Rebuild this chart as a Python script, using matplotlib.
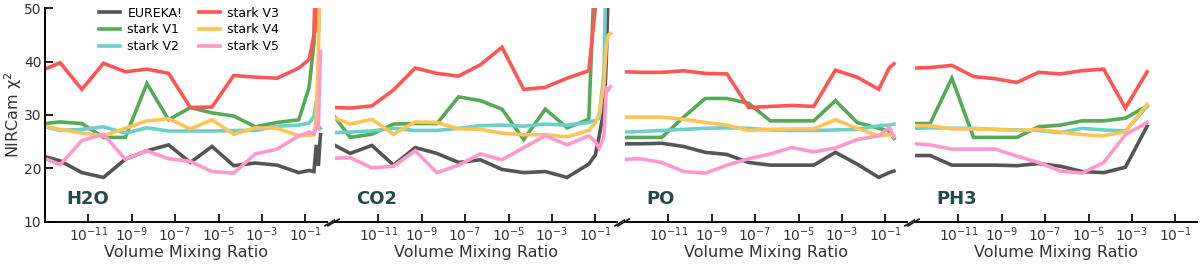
#!/usr/bin/env python3
"""
NIRCam chi^2 versus volume mixing ratio for four molecules, drawn on a broken x axis.
"""

import matplotlib as mpl

mpl.use("Agg")

import matplotlib.pyplot as plt
import matplotlib.ticker

IMAGE_DPI = 100.0

# common grid: 1e-13 then 5e-13 ... 5e-2
BASE_X = [1e-13, 5e-13, 5e-12, 5e-11, 5e-10, 5e-9, 5e-8, 5e-7, 5e-6, 5e-5, 5e-4, 5e-3, 5e-2]

SERIES = ["EUREKA!", "stark V1", "stark V2", "stark V3", "stark V4", "stark V5"]
COLORS = ["#555555", "#55aa55", "#6dcfc9", "#ff5555", "#ffc457", "#ff99cc"]

# H2O
h2o_x = BASE_X + [0.15, 0.25, 0.32, 0.4, 0.5]
h2o_eureka = [22.2, 21.4, 19.2, 18.3, 21.7, 23.3, 24.4, 21.1, 24.1, 20.5, 21.0, 20.6, 19.2, 19.6, 19.4, 24.4, 20.5, 26.3]
h2o_v1 = [28.4, 28.7, 28.4, 25.8, 25.8, 35.9, 29.1, 31.4, 30.4, 29.8, 27.8, 28.6, 29.1, 35.2, 43.4, 60.0, 60.0, 60.0]
h2o_v2 = [27.8, 27.1, 27.3, 27.8, 26.6, 27.6, 27.0, 27.0, 27.0, 27.1, 27.1, 27.9, 28.1, 28.5, 29.7, 32.7, 28.0, 27.5]
h2o_v3 = [38.6, 39.8, 34.8, 39.7, 38.1, 38.6, 37.8, 31.4, 31.5, 37.4, 37.1, 36.9, 38.8, 40.4, 45.0, 60.0, 45.5, 60.0]
h2o_v4 = [27.9, 27.3, 26.6, 26.1, 27.5, 28.9, 29.3, 27.4, 29.1, 26.4, 27.6, 27.5, 26.1, 26.2, 26.3, 29.4, 42.0, 60.0]
h2o_v5 = [21.8, 20.7, 25.2, 26.4, 21.7, 23.3, 21.8, 21.3, 19.4, 19.1, 22.7, 23.6, 26.1, 26.8, 26.4, 27.8, 27.5, 41.9]

# CO2
co2_x = BASE_X + [0.1, 0.15, 0.25, 0.32, 0.4, 0.5]
co2_eureka = [24.3, 22.8, 24.3, 20.6, 23.9, 22.8, 21.1, 21.6, 19.8, 19.2, 19.4, 18.3, 20.8, 22.5, 26.0, 31.0, 40.0, 55.0, 60.0]
co2_v1 = [29.6, 25.8, 26.4, 28.3, 28.4, 28.4, 33.4, 32.7, 31.1, 25.4, 31.1, 27.6, 29.2, 60.0, 60.0, 60.0, 60.0, 60.0, 60.0]
co2_v2 = [26.7, 26.8, 27.0, 27.5, 27.1, 27.1, 27.5, 28.0, 28.1, 27.9, 28.3, 28.1, 28.6, 29.0, 29.4, 38.0, 60.0, 60.0, 60.0]
co2_v3 = [31.4, 31.3, 31.7, 34.7, 38.8, 37.8, 37.3, 39.4, 42.7, 34.8, 35.2, 36.9, 38.3, 50.0, 70.0, 70.0, 70.0, 70.0, 70.0]
co2_v4 = [29.4, 28.3, 29.2, 26.4, 28.7, 28.6, 27.4, 27.3, 26.6, 26.3, 26.3, 25.9, 27.1, 28.5, 30.3, 35.9, 43.0, 45.0, 45.3]
co2_v5 = [21.9, 22.0, 20.1, 20.4, 23.3, 19.2, 20.6, 22.7, 21.6, 23.9, 26.1, 24.4, 26.1, 25.0, 23.8, 25.9, 35.0, 34.7, 35.3]

# PO
po_x = BASE_X + [0.15, 0.25]
po_eureka = [24.6, 24.6, 24.7, 24.1, 23.0, 22.6, 21.1, 20.6, 20.6, 20.6, 23.0, 20.8, 18.3, 19.2, 19.5]
po_v1 = [25.8, 25.8, 25.8, 29.6, 33.1, 33.1, 32.2, 28.9, 28.9, 28.9, 32.7, 28.6, 27.5, 27.0, 25.6]
po_v2 = [26.8, 26.9, 27.1, 27.3, 27.5, 27.6, 27.5, 27.2, 27.1, 27.1, 27.2, 27.3, 28.0, 28.1, 28.3]
po_v3 = [38.1, 38.0, 38.0, 38.3, 37.8, 37.7, 31.4, 31.6, 31.8, 31.6, 38.4, 37.1, 34.8, 38.8, 39.6]
po_v4 = [29.6, 29.6, 29.6, 29.2, 28.6, 28.1, 27.1, 27.3, 27.4, 27.4, 29.1, 27.5, 26.1, 26.3, 26.1]
po_v5 = [21.7, 21.8, 21.1, 19.4, 19.1, 20.6, 21.8, 22.7, 23.9, 23.1, 23.8, 25.4, 26.1, 27.7, 25.9]

# PH3
ph3_x = BASE_X[:12]
ph3_eureka = [22.4, 22.4, 20.6, 20.6, 20.6, 20.5, 20.9, 20.4, 19.4, 19.2, 20.2, 27.9]
ph3_v1 = [28.4, 28.4, 36.9, 25.8, 25.8, 25.8, 27.8, 28.1, 28.9, 28.9, 29.4, 31.7]
ph3_v2 = [27.5, 27.6, 27.5, 27.5, 27.3, 27.2, 27.1, 26.7, 27.5, 27.2, 27.0, 31.6]
ph3_v3 = [38.8, 38.9, 39.3, 37.2, 36.8, 36.1, 38.0, 37.7, 38.3, 38.6, 31.3, 38.1]
ph3_v4 = [28.0, 28.0, 27.4, 27.4, 27.3, 27.1, 27.3, 26.8, 26.3, 26.1, 26.9, 32.0]
ph3_v5 = [24.6, 24.4, 23.6, 23.6, 23.6, 22.3, 21.1, 19.5, 19.1, 21.1, 26.3, 28.6]

PANELS = [
    ("H2O", h2o_x, [h2o_eureka, h2o_v1, h2o_v2, h2o_v3, h2o_v4, h2o_v5]),
    ("CO2", co2_x, [co2_eureka, co2_v1, co2_v2, co2_v3, co2_v4, co2_v5]),
    ("PO", po_x, [po_eureka, po_v1, po_v2, po_v3, po_v4, po_v5]),
    ("PH3", ph3_x, [ph3_eureka, ph3_v1, ph3_v2, ph3_v3, ph3_v4, ph3_v5]),
]

X_TICKS = [1e-11, 1e-9, 1e-7, 1e-5, 1e-3, 1e-1]


def plot_panel(ax, name, x, ys, first):
    for label, color, y in zip(SERIES, COLORS, ys):
        ax.plot(x, y, color=color, linewidth=2.6, label=label, solid_joinstyle="miter")

    ax.set_xscale("log")
    ax.set_xlim(1e-13, 1)
    ax.set_ylim(10, 50)
    ax.set_xticks(X_TICKS)
    ax.xaxis.set_minor_locator(matplotlib.ticker.NullLocator())
    ax.set_yticks([10, 20, 30, 40, 50])

    ax.tick_params(
        direction="in", length=6, width=1.4, pad=2.5, labelsize=10, color="#222222", labelcolor="#333333"
    )

    ax.spines["top"].set_visible(False)
    ax.spines["right"].set_visible(False)
    ax.spines["bottom"].set_linewidth(1.4)
    ax.spines["left"].set_linewidth(1.4)
    if not first:
        ax.spines["left"].set_visible(False)
        ax.tick_params(axis="y", left=False, labelleft=False)

    ax.set_xlabel("Volume Mixing Ratio", fontsize=11.5, color="#333333", labelpad=1)

    ax.text(
        0.075,
        0.085,
        name,
        transform=ax.transAxes,
        fontsize=13,
        fontweight="bold",
        color="#264a4a",
    )


def main():
    fig = plt.figure(figsize=(1200 / IMAGE_DPI, 264 / IMAGE_DPI), dpi=IMAGE_DPI)

    left = 45 / 1200
    width = 282 / 1200
    gap = 8 / 1200
    bottom = 1 - 221.7 / 264
    height = (221.7 - 8.3) / 264

    axes = []
    for i, (name, x, ys) in enumerate(PANELS):
        ax = fig.add_axes([left + i * (width + gap), bottom, width, height])
        plot_panel(ax, name, x, ys, i == 0)
        axes.append(ax)

    axes[0].set_ylabel("NIRCam χ$^2$", fontsize=11.5, color="#333333", labelpad=0)

    axes[0].legend(
        ncol=2,
        frameon=False,
        fontsize=9,
        loc="upper left",
        bbox_to_anchor=(0.15, 1.06),
        handlelength=1.7,
        labelspacing=0.3,
        columnspacing=1.3,
        handletextpad=0.6,
    )

    # diagonal break marks on the x axis between panels
    d = 0.6
    kw = dict(
        marker=[(-1, -d), (1, d)],
        markersize=9,
        linestyle="none",
        color="#222222",
        mec="#222222",
        mew=1.3,
        clip_on=False,
    )
    for i, ax in enumerate(axes):
        if i < len(axes) - 1:
            ax.plot([1.01], [0], transform=ax.transAxes, **kw)
        if i > 0:
            ax.plot([-0.008], [0], transform=ax.transAxes, **kw)

    fig.savefig("out.png", dpi=IMAGE_DPI)
    plt.close(fig)


if __name__ == "__main__":
    main()
